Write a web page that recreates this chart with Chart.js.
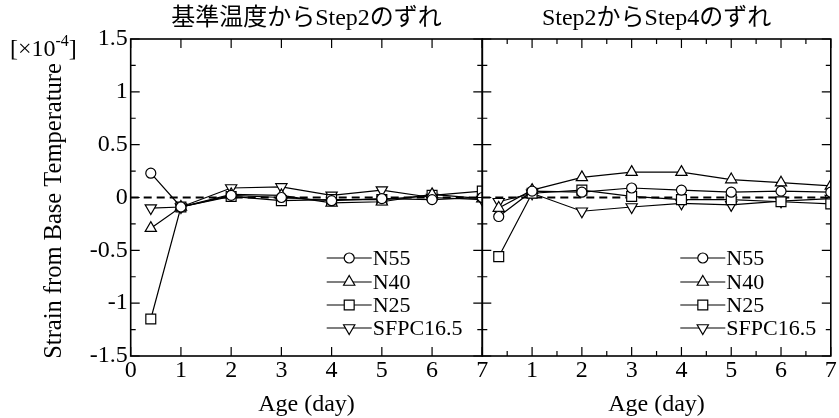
<!DOCTYPE html>
<html>
<head>
<meta charset="utf-8">
<script src="https://cdn.jsdelivr.net/npm/chart.js@4.4.1/dist/chart.umd.min.js"></script>
<style>
  body { margin: 0; background: #fff; }
  #wrap { position: relative; width: 839px; height: 418px; }
  #wrap canvas { position: absolute; left: 0; top: 0; }
</style>
</head>
<body>
<div id="wrap">
  <canvas id="chartLeft" width="839" height="418"></canvas>
  <canvas id="chartRight" width="839" height="418"></canvas>
</div>
<script>
// --- DATOS ---
const seriesNames = ['N55', 'N40', 'N25', 'SFPC16.5'];
const leftTitle = '基準温度からStep2のずれ';
const rightTitle = 'Step2からStep4のずれ';
const yAxisTitle = 'Strain from Base Temperature';
const xAxisTitle = 'Age (day)';

const leftAge = [0.4, 1, 2, 3, 4, 5, 6, 7];
const leftN55 = [0.23, -0.09, 0.02, 0.0, -0.03, -0.01, -0.02, 0.0];
const leftN40 = [-0.29, -0.09, 0.03, 0.02, -0.05, -0.04, 0.03, -0.01];
const leftN25 = [-1.15, -0.09, 0.01, -0.03, -0.02, -0.02, 0.02, 0.06];
const leftSFPC = [-0.10, -0.09, 0.09, 0.10, 0.02, 0.07, 0.00, -0.02];

const rightAge = [0.33, 1, 2, 3, 4, 5, 6, 7];
const rightN55 = [-0.18, 0.06, 0.05, 0.09, 0.07, 0.05, 0.06, 0.05];
const rightN40 = [-0.10, 0.07, 0.19, 0.24, 0.24, 0.17, 0.14, 0.11];
const rightN25 = [-0.56, 0.04, 0.07, 0.01, -0.02, -0.02, -0.04, -0.06];
const rightSFPC = [-0.04, 0.04, -0.13, -0.09, -0.055, -0.07, -0.035, -0.01];

const zeroX = [0, 7];
const zeroY = [0, 0];

const yMajorTicks = [-1.5, -1, -0.5, 0, 0.5, 1, 1.5];
const yMinorTicks = [-1.25, -0.75, -0.25, 0.25, 0.75, 1.25];
const xMajorTicks = [0, 1, 2, 3, 4, 5, 6, 7];
const xMinorTicks = [0.5, 1.5, 2.5, 3.5, 4.5, 5.5, 6.5];

// --- ESTILOS ---
const SERIF = "'Liberation Serif', 'Times New Roman', serif";
const TITLE_FONT = "'Liberation Serif', 'Noto Sans CJK JP', serif";
const estilos = [
    { pointStyle: 'circle', radius: 5, rotation: 0 },
    { pointStyle: 'triangle', radius: 6.5, rotation: 0 },
    { pointStyle: 'rect', radius: 7, rotation: 0 },
    { pointStyle: 'triangle', radius: 6.5, rotation: 180 }
];

Chart.defaults.color = '#000';
Chart.defaults.font.family = SERIF;

function armarDatasets(xs, series) {
    const ds = series.map((ys, i) => ({
        label: seriesNames[i],
        data: xs.map((x, k) => ({ x: x, y: ys[k] })),
        borderColor: '#000',
        borderWidth: 1.2,
        backgroundColor: '#fff',
        pointBackgroundColor: '#fff',
        pointBorderColor: '#000',
        pointBorderWidth: 1.2,
        pointStyle: estilos[i].pointStyle,
        pointRadius: estilos[i].radius,
        pointRotation: estilos[i].rotation,
        tension: 0
    }));
    ds.push({
        label: 'zero',
        data: zeroX.map((x, k) => ({ x: x, y: zeroY[k] })),
        borderColor: '#000',
        borderWidth: 2,
        borderDash: [8, 5],
        pointRadius: 0,
        tension: 0
    });
    return ds;
}

// marcador propio para la leyenda
function dibujarMarcador(ctx, est, x, y) {
    const r = est.radius;
    ctx.beginPath();
    if (est.pointStyle === 'circle') {
        ctx.arc(x, y, r, 0, Math.PI * 2);
    } else if (est.pointStyle === 'rect') {
        const s = r * Math.SQRT1_2;
        ctx.rect(x - s, y - s, 2 * s, 2 * s);
    } else {
        const dir = est.rotation === 180 ? -1 : 1;
        ctx.moveTo(x, y - dir * r);
        ctx.lineTo(x + r * Math.sin(Math.PI * 2 / 3), y + dir * r * 0.5);
        ctx.lineTo(x - r * Math.sin(Math.PI * 2 / 3), y + dir * r * 0.5);
        ctx.closePath();
    }
    ctx.fillStyle = '#fff';
    ctx.fill();
    ctx.stroke();
}

// --- PLUGIN: marco, ticks hacia adentro, leyenda ---
const marcoPlugin = {
    id: 'marco',
    afterDatasetsDraw(chart, args, opts) {
        const { ctx, chartArea: a } = chart;
        const x = chart.scales.x, y = chart.scales.y;
        ctx.save();
        ctx.strokeStyle = '#000';
        ctx.lineWidth = 1.2;
        ctx.beginPath();
        const yTick = (v, len) => {
            const py = y.getPixelForValue(v);
            ctx.moveTo(a.left, py); ctx.lineTo(a.left + len, py);
            ctx.moveTo(a.right, py); ctx.lineTo(a.right - len, py);
        };
        const xTick = (v, len) => {
            const px = x.getPixelForValue(v);
            ctx.moveTo(px, a.bottom); ctx.lineTo(px, a.bottom - len);
            ctx.moveTo(px, a.top); ctx.lineTo(px, a.top + len);
        };
        yMajorTicks.forEach(v => yTick(v, 9));
        yMinorTicks.forEach(v => yTick(v, 5));
        xMajorTicks.forEach(v => xTick(v, 9));
        if (opts.minorX) xMinorTicks.forEach(v => xTick(v, 5));
        ctx.stroke();

        ctx.lineWidth = 1.6;
        ctx.strokeRect(a.left, a.top, a.right - a.left, a.bottom - a.top);

        // leyenda
        ctx.lineWidth = 1.2;
        ctx.font = '22px ' + SERIF;
        ctx.fillStyle = '#000';
        ctx.textBaseline = 'middle';
        const filas = [219, 243, 266, 289];
        const x0 = a.left + opts.legendX, x1 = x0 + 45;
        seriesNames.forEach((nombre, i) => {
            const py = a.top + filas[i];
            ctx.beginPath();
            ctx.moveTo(x0, py); ctx.lineTo(x1, py);
            ctx.stroke();
            dibujarMarcador(ctx, estilos[i], (x0 + x1) / 2, py);
            ctx.fillStyle = '#000';
            ctx.fillText(nombre, x1 + 1, py + 1);
        });

        if (opts.unidad) {
            // titulo del eje Y (girado)
            ctx.save();
            ctx.translate(55, 211);
            ctx.rotate(-Math.PI / 2);
            ctx.textAlign = 'center';
            ctx.textBaseline = 'middle';
            ctx.font = '24.5px ' + SERIF;
            ctx.fillText(yAxisTitle, 0, 0);
            ctx.restore();

            // unidad del eje Y
            ctx.textBaseline = 'alphabetic';
            ctx.font = '24px ' + SERIF;
            ctx.fillText('[×10', 10, 56);
            let w = ctx.measureText('[×10').width;
            ctx.font = '16px ' + SERIF;
            ctx.fillText('-4', 10 + w, 46);
            w += ctx.measureText('-4').width;
            ctx.font = '24px ' + SERIF;
            ctx.fillText(']', 10 + w, 56);
        }
        ctx.restore();
    }
};

function crearGrafico(id, titulo, datasets, izquierda) {
    return new Chart(document.getElementById(id), {
        type: 'line',
        data: { datasets: datasets },
        plugins: [marcoPlugin],
        options: {
            responsive: false,
            animation: false,
            layout: {
                padding: izquierda ? { left: 0, right: 839 - 482.3, top: 0, bottom: 0 }
                                   : { left: 482.3, right: 4, top: 0, bottom: 0 }
            },
            plugins: {
                legend: { display: false },
                tooltip: { enabled: false },
                title: {
                    display: true,
                    text: titulo,
                    fullSize: false,
                    color: '#000',
                    font: { family: TITLE_FONT, size: 24, weight: 'normal', lineHeight: 1.2 },
                    padding: { top: 4, bottom: 6.2 }
                },
                marco: { legendX: izquierda ? 196 : 198, minorX: !izquierda, unidad: izquierda }
            },
            scales: {
                x: {
                    type: 'linear',
                    min: 0, max: 7,
                    grid: { display: false, drawTicks: false },
                    border: { display: false },
                    ticks: {
                        stepSize: 1,
                        padding: 0,
                        font: { size: 24 },
                        color: '#000',
                        callback: v => (!izquierda && v === 0) ? '' : String(v)
                    },
                    title: {
                        display: true,
                        text: xAxisTitle,
                        color: '#000',
                        font: { size: 24, lineHeight: 1 },
                        padding: { top: 0, bottom: 1 }
                    },
                    afterFit: s => { s.height = 62; s.paddingLeft = 0; s.paddingRight = 0; }
                },
                y: {
                    display: izquierda,
                    min: -1.5, max: 1.5,
                    grid: { display: false, drawTicks: false },
                    border: { display: false },
                    ticks: {
                        stepSize: 0.5,
                        padding: 3,
                        font: { size: 24 },
                        color: '#000',
                        callback: v => String(v)
                    },
                    afterFit: s => { s.width = izquierda ? 130.7 : 0; }
                }
            }
        }
    });
}

crearGrafico('chartLeft', leftTitle, armarDatasets(leftAge, [leftN55, leftN40, leftN25, leftSFPC]), true);
crearGrafico('chartRight', rightTitle, armarDatasets(rightAge, [rightN55, rightN40, rightN25, rightSFPC]), false);
</script>
</body>
</html>
